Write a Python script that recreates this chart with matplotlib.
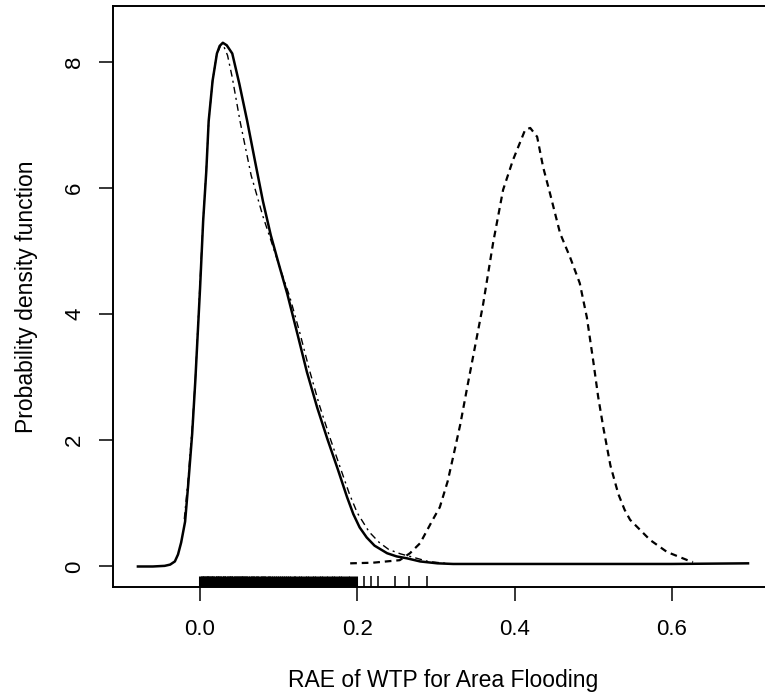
import matplotlib.pyplot as plt

# kernel density of the sample (solid)
solid_x = [-0.079, -0.060, -0.045, -0.038, -0.032, -0.028, -0.024, -0.019, -0.015, -0.010,
           -0.006, 0.000, 0.004, 0.008, 0.011, 0.016, 0.0215, 0.025, 0.029, 0.034,
           0.041, 0.050, 0.060, 0.070, 0.080, 0.090, 0.100, 0.111, 0.124, 0.136,
           0.149, 0.162, 0.175, 0.187, 0.195, 0.203, 0.212, 0.222, 0.238,
           0.250, 0.263, 0.280, 0.302, 0.322, 0.400, 0.500, 0.600, 0.697]
solid_y = [0.00, 0.00, 0.01, 0.03, 0.08, 0.19, 0.38, 0.71, 1.30, 2.10,
           2.94, 4.40, 5.48, 6.27, 7.06, 7.70, 8.13, 8.25, 8.30, 8.26,
           8.13, 7.65, 7.06, 6.42, 5.79, 5.25, 4.80, 4.32, 3.68, 3.08,
           2.52, 2.02, 1.55, 1.10, 0.83, 0.62, 0.46, 0.33, 0.21,
           0.16, 0.13, 0.08, 0.05, 0.04, 0.04, 0.04, 0.04, 0.05]

# fitted density (dash-dot)
dashdot_x = [-0.020, -0.015, -0.010, -0.006, 0.000, 0.004, 0.008, 0.011, 0.016, 0.021,
             0.026, 0.030, 0.035, 0.041, 0.051, 0.065, 0.080, 0.092, 0.103, 0.114,
             0.127, 0.139, 0.152, 0.165, 0.178, 0.190, 0.200, 0.215, 0.228, 0.240,
             0.255, 0.270, 0.290, 0.320]
dashdot_y = [0.75, 1.40, 2.20, 2.95, 4.50, 5.50, 6.30, 7.05, 7.70, 8.10,
             8.25, 8.25, 8.10, 7.75, 7.05, 6.20, 5.55, 5.10, 4.68, 4.28,
             3.70, 3.12, 2.55, 2.05, 1.58, 1.15, 0.85, 0.55, 0.38, 0.27,
             0.20, 0.15, 0.08, 0.04]

# second density (dashed)
dashed_x = [0.191, 0.220, 0.254, 0.267, 0.280, 0.296, 0.305, 0.315, 0.322, 0.331,
            0.340, 0.350, 0.360, 0.3728, 0.379, 0.3855, 0.398, 0.4135, 0.420, 0.4288,
            0.4364, 0.445, 0.458, 0.4707, 0.483, 0.492, 0.500, 0.5064, 0.513, 0.522,
            0.532, 0.540, 0.547, 0.5725, 0.594, 0.620, 0.627]
dashed_y = [0.05, 0.06, 0.10, 0.21, 0.37, 0.74, 0.94, 1.35, 1.74, 2.25,
            2.85, 3.50, 4.15, 5.13, 5.54, 5.97, 6.44, 6.92, 6.95, 6.81,
            6.33, 5.92, 5.28, 4.90, 4.49, 3.95, 3.27, 2.69, 2.20, 1.60,
            1.15, 0.90, 0.74, 0.42, 0.23, 0.10, 0.07]

# observations shown as a rug (dense part, then the few large ones)
rug_dense = [0.000, 0.002, 0.004, 0.005, 0.007, 0.009, 0.010, 0.012, 0.014, 0.015,
             0.017, 0.019, 0.021, 0.022, 0.024, 0.026, 0.028, 0.030, 0.031, 0.033,
             0.035, 0.037, 0.039, 0.040, 0.042, 0.044, 0.046, 0.048, 0.050, 0.052,
             0.054, 0.055, 0.057, 0.059, 0.061, 0.063, 0.066, 0.068, 0.070, 0.072,
             0.074, 0.077, 0.079, 0.081, 0.083, 0.086, 0.088, 0.090, 0.093, 0.095,
             0.098, 0.100, 0.103, 0.105, 0.108, 0.111, 0.113, 0.116, 0.119, 0.121,
             0.124, 0.127, 0.130, 0.133, 0.136, 0.139, 0.142, 0.145, 0.148, 0.151,
             0.154, 0.157, 0.160, 0.163, 0.166, 0.169, 0.172, 0.175, 0.178, 0.181,
             0.184, 0.188, 0.191, 0.195, 0.198]
rug_sparse = [0.209, 0.218, 0.227, 0.248, 0.266, 0.289]

x_ticks = [0.0, 0.2, 0.4, 0.6]
x_tick_labels = ["0.0", "0.2", "0.4", "0.6"]
y_ticks = [0, 2, 4, 6, 8]


def main():
    plt.rcParams['font.family'] = ['Liberation Sans', 'DejaVu Sans']

    fig = plt.figure(figsize=(7.65, 6.95), dpi=100)
    ax = fig.add_axes([0.1477, 0.1554, 0.864, 0.836])

    ax.plot(solid_x, solid_y, color="black", linewidth=1.8)
    ax.plot(dashdot_x, dashdot_y, color="black", linewidth=1.0, dashes=(5, 3, 1.5, 3))
    ax.plot(dashed_x, dashed_y, color="black", linewidth=1.6, dashes=(3, 2.2))

    # rug along the bottom
    ax.vlines(rug_dense, 0, 0.019, color="black", linewidth=2.2, transform=ax.get_xaxis_transform())
    ax.vlines(rug_sparse, 0, 0.019, color="black", linewidth=1.1, transform=ax.get_xaxis_transform())

    ax.set_xlim(-0.1107, 0.730)
    ax.set_ylim(-0.325, 8.883)

    ax.set_xticks(x_ticks)
    ax.set_xticklabels(x_tick_labels)
    ax.set_yticks(y_ticks)
    ax.tick_params(axis="both", direction="out", length=10, width=1.1, labelsize=16, color="black")
    ax.tick_params(axis="x", pad=13)
    ax.tick_params(axis="y", pad=10)
    for lab in ax.get_yticklabels():
        lab.set_rotation(90)
        lab.set_va("center")

    for side in ["left", "bottom", "top", "right"]:
        ax.spines[side].set_linewidth(1.4)

    ax.set_xlabel("RAE of WTP for Area Flooding", fontsize=16.5, labelpad=21)
    ax.set_ylabel("Probability density function", fontsize=16.5, labelpad=19)

    fig.savefig("out.png", dpi=100)


if __name__ == "__main__":
    main()
